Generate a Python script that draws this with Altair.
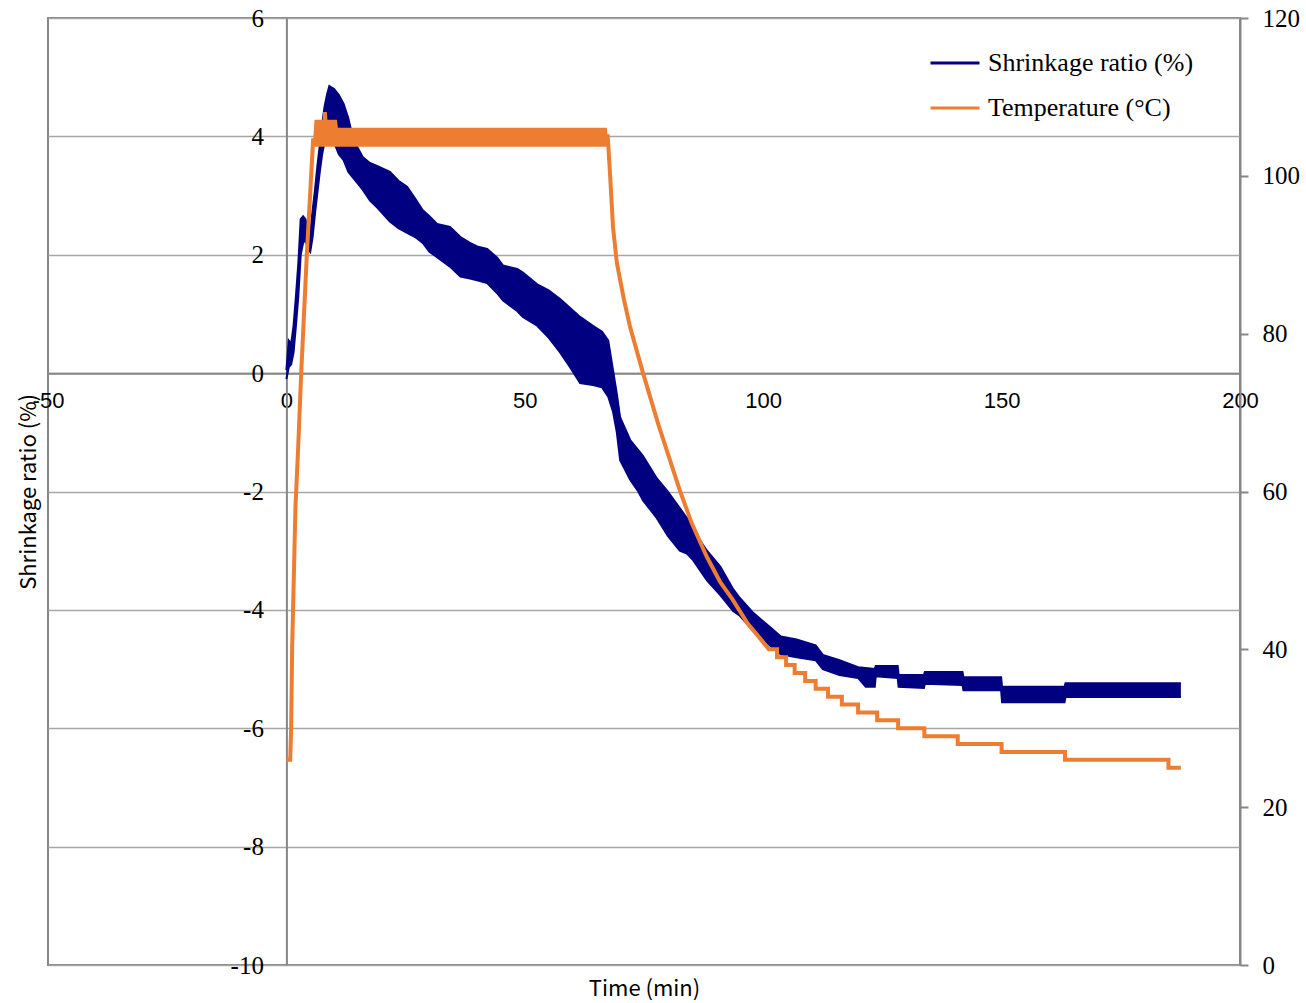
import altair as alt
import pandas as pd

# ---------------- data ----------------
series_names = ["Shrinkage ratio (%)", "Temperature (°C)"]
series_colors = ["#000080", "#ED7D31"]

x_ticks = [-50, 0, 50, 100, 150, 200]
left_ticks = [-10, -8, -6, -4, -2, 0, 2, 4, 6]
right_ticks = [0, 20, 40, 60, 80, 100, 120]

# Shrinkage ratio (%): noisy trace, read as lower / upper extent of the trace
shr_t = [0, 0.5, 1, 1.5, 2, 2.5, 3, 3.5, 4, 4.5,
         5, 5.5, 6, 6.5, 7, 7.5, 8, 8.5, 9, 10,
         11, 12, 13, 14, 15, 16, 17.5, 19, 21.7, 23.5,
         25.3, 27, 28.6, 30, 31.6, 34.3, 36.5, 38.5, 40, 42.1,
         44.2, 45.4, 48.4, 49.6, 52.6, 55, 57.4, 59.5, 61.6, 64.3,
         66.2, 67.5, 68.5, 69.3, 70, 72.1, 73.8, 74.8, 77.7, 80,
         82.5, 84, 85.3, 88.2, 91, 93.7, 95.1, 97.9, 101.4, 103.7,
         107, 111, 112.5, 116, 119.9, 121.5, 123.4, 123.6, 128.2, 128.4,
         133.7, 133.9, 141.8, 142, 149.9, 150.1, 163.2, 163.4, 187.6]
shr_lo = [-0.1, 0.1, 0.15, 0.35, 0.8, 1.3, 2.0, 2.2, 2.25, 2.1,
          2.05, 2.3, 2.7, 3.05, 3.4, 3.7, 3.9, 4.0, 4.05, 3.9,
          3.7, 3.6, 3.4, 3.3, 3.2, 3.1, 2.92, 2.8, 2.56, 2.45,
          2.37, 2.3, 2.2, 2.05, 1.96, 1.8, 1.63, 1.6, 1.57, 1.52,
          1.35, 1.23, 1.05, 0.95, 0.8, 0.6, 0.35, 0.1, -0.17, -0.2,
          -0.24, -0.4, -0.65, -1.0, -1.47, -1.8, -2.0, -2.15, -2.45, -2.75,
          -3.0, -3.05, -3.16, -3.5, -3.75, -4.02, -4.1, -4.35, -4.6, -4.75,
          -4.8, -4.85, -5.0, -5.1, -5.15, -5.3, -5.3, -5.12, -5.15, -5.3,
          -5.32, -5.25, -5.27, -5.36, -5.36, -5.56, -5.56, -5.47, -5.47]
shr_hi = [0.05, 0.55, 0.5, 0.8, 1.3, 1.85, 2.6, 2.65, 2.6, 2.45,
          2.35, 2.75, 3.1, 3.5, 3.85, 4.2, 4.5, 4.7, 4.85, 4.8,
          4.7, 4.55, 4.3, 3.95, 3.8, 3.65, 3.55, 3.5, 3.4, 3.25,
          3.15, 2.95, 2.75, 2.65, 2.52, 2.47, 2.3, 2.2, 2.14, 2.1,
          1.95, 1.82, 1.76, 1.7, 1.5, 1.4, 1.25, 1.1, 0.95, 0.8,
          0.7, 0.55, 0.05, -0.35, -0.75, -1.13, -1.3, -1.4, -1.78, -2.0,
          -2.28, -2.45, -2.65, -3.0, -3.27, -3.65, -3.8, -4.05, -4.29, -4.45,
          -4.5, -4.6, -4.76, -4.85, -4.97, -4.98, -5.0, -4.95, -4.95, -5.1,
          -5.1, -5.05, -5.05, -5.14, -5.14, -5.3, -5.3, -5.24, -5.24]

# Temperature (°C): heating ramp, cooling curve and 1 °C logger steps
temp_t = [0, 0.8, 1.0, 1.2, 1.9, 2.5, 3.1, 4.3, 5.6,
          67.4, 67.9, 68.5, 69.3, 70.8, 72.1, 74.8, 78.0, 82.6, 85.0,
          88.2, 91.0, 93.6, 96.7, 99.6, 101.2, 102.9, 102.9, 104.8, 104.8,
          106.6, 106.6, 108.8, 108.8, 111.0, 111.0, 113.6, 113.6, 116.5, 116.5,
          119.9, 119.9, 123.9, 123.9, 128.3, 128.3, 133.8, 133.8, 140.8, 140.8,
          150.0, 150.0, 163.3, 163.3, 185.0, 185.0, 187.6]
temp_v = [26.0, 26.0, 30.0, 40.0, 58.0, 66.0, 75.0, 90.2, 104.5,
          105.0, 100.0, 93.5, 89.0, 84.3, 80.8, 75.0, 68.5, 60.0, 56.0,
          51.7, 48.5, 46.3, 43.3, 41.2, 40.0, 40.0, 39.0, 39.0, 38.0,
          38.0, 37.0, 37.0, 36.0, 36.0, 35.0, 35.0, 34.0, 34.0, 33.0,
          33.0, 32.0, 32.0, 31.0, 31.0, 30.0, 30.0, 29.0, 29.0, 28.0,
          28.0, 27.0, 27.0, 26.0, 26.0, 25.0, 25.0]

# Temperature hold: controller oscillation band
plat_t = [5.6, 5.9, 7.6, 7.7, 8.5, 8.6, 10.6, 10.8, 67.2, 67.4]
plat_lo = [104.5, 103.7, 103.7, 103.7, 103.7, 103.7, 103.7, 103.7, 103.7, 105.0]
plat_hi = [104.5, 107.1, 107.1, 108.1, 108.1, 107.1, 107.1, 106.1, 106.1, 105.0]

# ---------------- layout ----------------
W, H = 1192, 947
X_DOMAIN = [-50, 200]
YL_DOMAIN = [-10, 6]
YR_DOMAIN = [0, 120]
GRID = "#a6a6a6"
FRAME = "#868686"

x_zero_px = W * (0 - X_DOMAIN[0]) / (X_DOMAIN[1] - X_DOMAIN[0])
y_zero_px = H * (YL_DOMAIN[1] - 0) / (YL_DOMAIN[1] - YL_DOMAIN[0])

shr_df = pd.DataFrame({"t": shr_t, "lo": shr_lo, "hi": shr_hi})
rows = []
for edge, vals in (("lo", shr_lo), ("hi", shr_hi)):
    for i, (t, v) in enumerate(zip(shr_t, vals)):
        rows.append({"t": t, "v": v, "edge": edge, "i": i, "series": series_names[0]})
edge_df = pd.DataFrame(rows)
temp_df = pd.DataFrame({"t": temp_t, "v": temp_v, "i": list(range(len(temp_t))),
                        "series": series_names[1]})
plat_df = pd.DataFrame({"t": plat_t, "lo": plat_lo, "hi": plat_hi})

PLAIN = "'' + datum.value"  # hyphen-minus like the reference

x_axis = alt.Axis(
    values=x_ticks, offset=-(H - y_zero_px), grid=False, ticks=False,
    domainColor=FRAME, domainWidth=2, labelExpr=PLAIN,
    labelFont="Liberation Sans", labelFontSize=22, labelColor="black",
    labelPadding=17, labelFlush=False, labelOverlap=False, labelBound=False,
    title="Time (min)", titleFont="Noto Sans CJK JP", titleFontSize=22,
    titleFontWeight="normal", titleColor="black",
    titleX=W / 2, titleY=(H + 23) - y_zero_px, titleAlign="center", titleBaseline="middle",
)
left_axis = alt.Axis(
    values=left_ticks, offset=-x_zero_px, grid=True, gridColor=GRID, gridWidth=1.5,
    ticks=False, domainColor=FRAME, domainWidth=2, labelExpr=PLAIN,
    labelFont="Liberation Serif", labelFontSize=25, labelColor="black",
    labelPadding=23, labelFlush=False, labelOverlap=False, labelBound=False,
    title="Shrinkage ratio (%)", titleFont="Noto Sans CJK JP", titleFontSize=22,
    titleFontWeight="normal", titleColor="black", titleAngle=-90,
    titleX=-x_zero_px - 20, titleY=H / 2, titleAlign="center", titleBaseline="middle",
)
right_axis = alt.Axis(
    values=right_ticks, orient="right", grid=False, ticks=True, tickSize=8,
    tickColor=FRAME, tickWidth=2, domainColor=FRAME, domainWidth=2,
    labelFont="Liberation Serif", labelFontSize=25, labelColor="black",
    labelPadding=14, labelFlush=False, labelOverlap=False, title=None,
)

x_enc = alt.X("t:Q", scale=alt.Scale(domain=X_DOMAIN, nice=False, zero=False), axis=x_axis)
yl_scale = alt.Scale(domain=YL_DOMAIN, nice=False, zero=False)
yr_scale = alt.Scale(domain=YR_DOMAIN, nice=False, zero=False)
color_enc = alt.Color(
    "series:N",
    scale=alt.Scale(domain=series_names, range=series_colors),
    legend=alt.Legend(
        title=None, orient="none", legendX=881, legendY=19, padding=0,
        symbolType="stroke", symbolSize=2400, symbolStrokeWidth=3,
        labelFont="Liberation Serif", labelFontSize=26, labelColor="black",
        labelOffset=7, rowPadding=6, labelLimit=400,
    ),
)

shr_band = alt.Chart(shr_df).mark_area(color=series_colors[0], opacity=1).encode(
    x=x_enc,
    y=alt.Y("lo:Q", scale=yl_scale, axis=left_axis),
    y2="hi:Q",
)
shr_edges = alt.Chart(edge_df).mark_line(strokeWidth=2).encode(
    x=x_enc,
    y=alt.Y("v:Q", scale=yl_scale, axis=left_axis),
    detail="edge:N",
    order="i:Q",
    color=color_enc,
)
shrink = alt.layer(shr_band, shr_edges)

plat_band = alt.Chart(plat_df).mark_area(color=series_colors[1], opacity=1).encode(
    x=x_enc,
    y=alt.Y("lo:Q", scale=yr_scale, axis=right_axis),
    y2="hi:Q",
)
temp_line = alt.Chart(temp_df).mark_line(strokeWidth=4).encode(
    x=x_enc,
    y=alt.Y("v:Q", scale=yr_scale, axis=right_axis),
    order="i:Q",
    color=color_enc,
)
temp = alt.layer(plat_band, temp_line)

chart = (
    alt.layer(shrink, temp)
    .resolve_scale(y="independent")
    .properties(
        width=W, height=H,
        padding={"left": 48, "top": 18, "right": 1306 - 48 - W, "bottom": 1003 - 18 - H},
        autosize=alt.AutoSizeParams(type="none"),
        background="white",
    )
    .configure_view(stroke=FRAME, strokeWidth=2)
)

chart.save("out.html", embed_options={"renderer": "svg", "actions": False})
